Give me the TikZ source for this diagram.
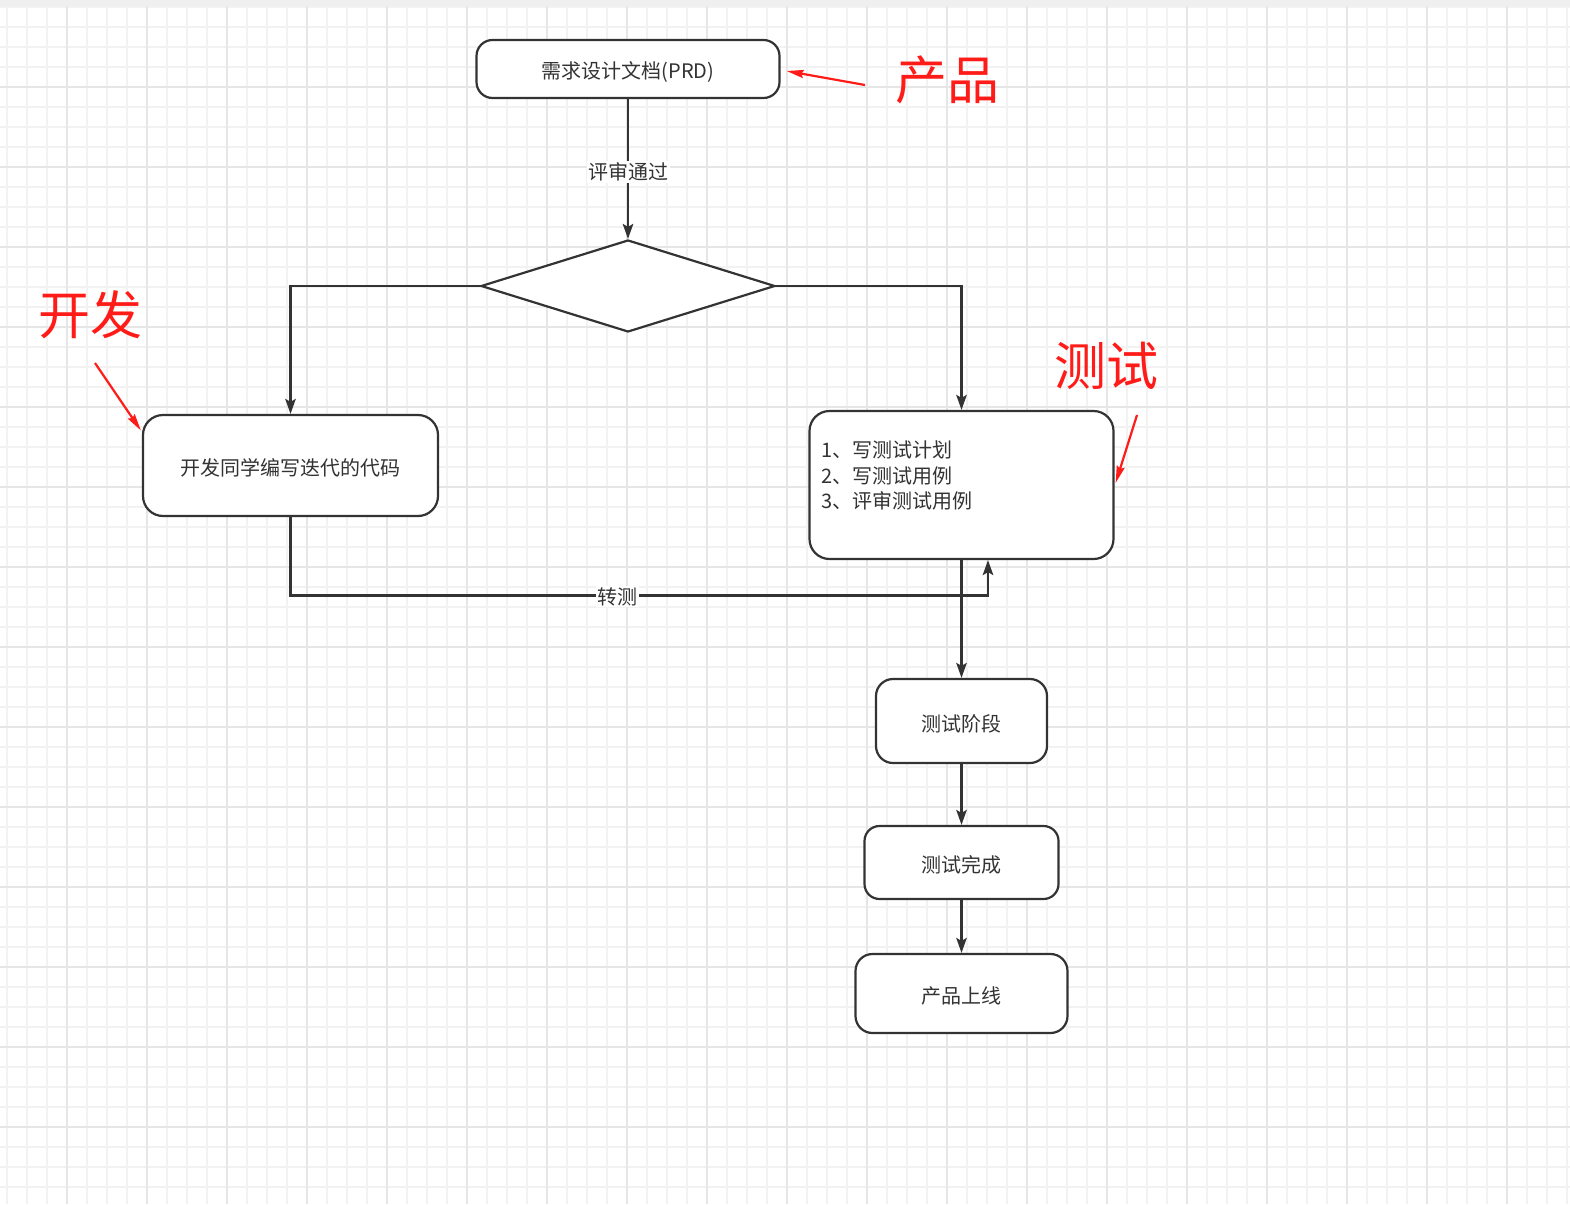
\documentclass[tikz,border=0pt]{standalone}
\usepackage{fontspec}
\setmainfont{Noto Sans CJK SC}
\usetikzlibrary{shapes.geometric,arrows.meta,calc}
\definecolor{ink}{HTML}{333333}
\definecolor{gridminor}{HTML}{F2F2F2}
\definecolor{gridmajor}{HTML}{E6E6E6}
\definecolor{topband}{HTML}{EFEFEF}
\definecolor{annot}{RGB}{255,28,24}
\tikzset{
  box/.style={draw=ink, line width=2.2pt, fill=white, rounded corners=#1, inner sep=0pt, text=ink,
    text height=20pt, text depth=0pt, font=\fontsize{20}{25.5}\selectfont},
  box/.default=16pt,
  dec/.style={draw=ink, line width=2.2pt, fill=white, diamond, inner sep=0pt, minimum width=294pt, minimum height=92pt},
  conn/.style={draw=ink, line width=2.2pt, -{Stealth[length=15pt,width=10.5pt,inset=3pt]}},
  lbl/.style={fill=white, text=ink, inner sep=1.5pt, font=\fontsize{20}{24}\selectfont},
  bigred/.style={text=annot, inner sep=0pt, font=\fontsize{52}{60}\selectfont},
  redarrow/.style={draw=annot, line width=2.2pt, -{Stealth[length=17pt,width=8pt,inset=2pt]}},
  minorline/.style={draw=gridminor, line width=1.4pt},
  majorline/.style={draw=gridmajor, line width=1.8pt}
}
\begin{document}
\begin{tikzpicture}[x=1pt,y=-1pt]
\useasboundingbox (0,0) rectangle (1570,1204);
\fill[white] (0,0) rectangle (1570,1204);
% grid
\foreach \x in {7,27,...,1567} \draw[minorline] (\x,0) -- (\x,1204);
\foreach \y in {7,27,...,1207} \draw[minorline] (0,\y) -- (1570,\y);
\foreach \x in {67,147,...,1547} \draw[majorline] (\x,0) -- (\x,1204);
\foreach \y in {87,167,...,1167} \draw[majorline] (0,\y) -- (1570,\y);
\fill[topband] (0,0) rectangle (1570,6);

% nodes
\node[box=16pt, minimum width=303pt, minimum height=58pt] (prd) at (628,69) {需求设计文档(PRD)};
\node[dec] (dia) at (628,286) {};
\node[box=20pt, minimum width=295pt, minimum height=101pt] (dev) at (290.5,465.5) {开发同学编写迭代的代码};
\node[box=20pt, minimum width=304pt, minimum height=148pt] (test) at (961.5,485) {};
\node[anchor=west, align=left, text=ink, inner sep=0pt, font=\fontsize{20}{25.5}\selectfont] (testtxt) at (821,475.5) {1、写测试计划\\2、写测试用例\\3、评审测试用例};
\node[box=17pt, minimum width=171pt, minimum height=84pt] (stage) at (961.5,721) {测试阶段};
\node[box=15pt, minimum width=194pt, minimum height=73pt] (done) at (961.5,862.5) {测试完成};
\node[box=17pt, minimum width=212pt, minimum height=79pt] (live) at (961.5,993.5) {产品上线};

% connectors
\draw[conn] (prd.south) -- node[lbl, pos=0.52] (l1) {评审通过} (dia.north);
\draw[conn] (dia.west) -| (dev.north);
\draw[conn] (dia.east) -| (test.north);
\coordinate (turn) at (988,595.5);
\draw[conn] (dev.south) |- node[lbl, pos=0.7345, yshift=-1pt] (l2) {转测} (turn) -- (test.south -| turn);
\draw[conn] (test.south) -- (stage.north);
\draw[conn] (stage.south) -- (done.north);
\draw[conn] (done.south) -- (live.north);

% annotations
\node[bigred] (pname) at (947,80) {产品};
\node[bigred] (dname) at (90,315) {开发};
\node[bigred] (tname) at (1106,366) {测试};
\coordinate (pa) at (865,85);
\coordinate (da) at (95,363);
\coordinate (ta) at (1137,415);
\draw[redarrow] (pa) -- ($(prd.east)+(6,2)$);
\draw[redarrow] (da) -- ($(dev.west)+(-1,-35)$);
\draw[redarrow] (ta) -- ($(test.east)+(1,-2)$);
\end{tikzpicture}
\end{document}
